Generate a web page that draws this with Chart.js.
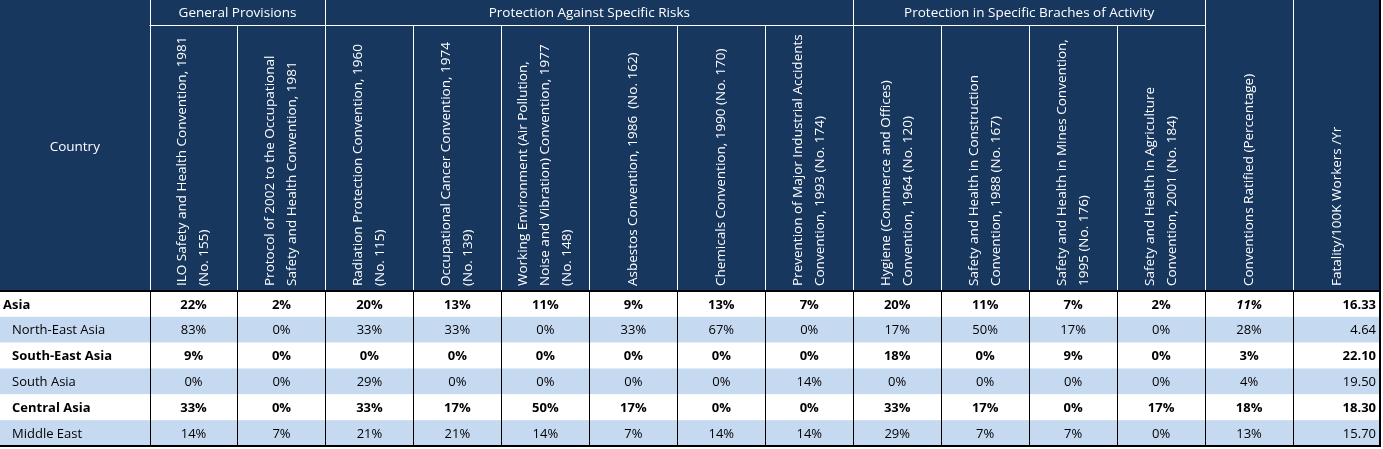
<!DOCTYPE html>
<html>
<head>
<meta charset="utf-8">
<script src="https://cdn.jsdelivr.net/npm/chart.js@4/dist/chart.umd.min.js"></script>
<style>
  html, body { margin: 0; padding: 0; background: #fff; }
  #wrap { width: 1383px; height: 449px; position: relative; }
</style>
</head>
<body>
<div id="wrap"><canvas id="table-chart"></canvas></div>
<script>
// Table data
const rowLabels = ['Asia', 'North-East Asia', 'South-East Asia', 'South Asia', 'Central Asia', 'Middle East']
const boldRows = [true, false, true, false, true, false]

const columnLabels = [
  ['ILO Safety and Health Convention, 1981', '(No. 155)'],
  ['Protocol of 2002 to the Occupational', 'Safety and Health Convention, 1981'],
  ['Radiation Protection Convention, 1960', '(No. 115)'],
  ['Occupational Cancer Convention, 1974', '(No. 139)'],
  ['Working Environment (Air Pollution,', 'Noise and Vibration) Convention, 1977', '(No. 148)'],
  ['Asbestos Convention, 1986  (No. 162)'],
  ['Chemicals Convention, 1990 (No. 170)'],
  ['Prevention of Major Industrial Accidents', 'Convention, 1993 (No. 174)'],
  ['Hygiene (Commerce and Offices)', 'Convention, 1964 (No. 120)'],
  ['Safety and Health in Construction', 'Convention, 1988 (No. 167)'],
  ['Safety and Health in Mines Convention,', '1995 (No. 176)'],
  ['Safety and Health in Agriculture', 'Convention, 2001 (No. 184)'],
  ['Conventions Ratified (Percentage)'],
  ['Fatality/100K Workers /Yr']
]

const groupLabels = ['General Provisions', 'Protection Against Specific Risks', 'Protection in Specific Braches of Activity']
const groupSpans = [[0, 2], [2, 8], [8, 12]]

const asiaValues = [22, 2, 20, 13, 11, 9, 13, 7, 20, 11, 7, 2]
const northEastValues = [83, 0, 33, 33, 0, 33, 67, 0, 17, 50, 17, 0]
const southEastValues = [9, 0, 0, 0, 0, 0, 0, 0, 18, 0, 9, 0]
const southValues = [0, 0, 29, 0, 0, 0, 0, 14, 0, 0, 0, 0]
const centralValues = [33, 0, 33, 17, 50, 17, 0, 0, 33, 17, 0, 17]
const middleEastValues = [14, 7, 21, 21, 14, 7, 14, 14, 29, 7, 7, 0]
const conventionValues = [asiaValues, northEastValues, southEastValues, southValues, centralValues, middleEastValues]

const ratifiedValues = [11, 28, 3, 4, 18, 13]
const fatalityValues = [16.33, 4.64, 22.10, 19.50, 18.30, 15.70]

const NAVY = '#17375e'
const LIGHT = '#c5d9f1'
const FONT = '"Open Sans", "Liberation Sans", sans-serif'

// one point per cell so every cell is placed through the scales
const cellPoints = []
rowLabels.forEach((r, ri) => {
  for (let ci = 0; ci < 14; ci++) cellPoints.push({ x: ci + 0.5, y: ri + 0.5 })
})

const tablePlugin = {
  id: 'tablePlugin',
  beforeDatasetsDraw(chart) {
    const { ctx, chartArea, scales } = chart
    const x = scales.x
    const y = scales.y
    const left = x.getPixelForValue(-1.7)
    const right = x.getPixelForValue(14)
    const colX = (i) => x.getPixelForValue(i)
    const rowY = (i) => y.getPixelForValue(i)
    const headTop = 0
    const headBottom = chartArea.top
    const groupBottom = 25

    ctx.save()
    // header background
    ctx.fillStyle = NAVY
    ctx.fillRect(left, headTop, right - left, headBottom - headTop)

    // body rows
    rowLabels.forEach((label, ri) => {
      const top = rowY(ri)
      const bottom = rowY(ri + 1)
      ctx.fillStyle = ri % 2 === 1 ? LIGHT : '#ffffff'
      ctx.fillRect(left, top, right - left, bottom - top)
    })

    // header lines (white)
    ctx.strokeStyle = '#ffffff'
    ctx.lineWidth = 1
    ctx.beginPath()
    for (let ci = 0; ci <= 13; ci++) {
      const px = Math.round(colX(ci)) + 0.5
      const inGroup = groupSpans.some(([a, b]) => ci > a && ci < b)
      ctx.moveTo(px, inGroup ? groupBottom : headTop)
      ctx.lineTo(px, headBottom)
    }
    groupSpans.forEach(([a, b]) => {
      ctx.moveTo(colX(a), groupBottom + 0.5)
      ctx.lineTo(colX(b), groupBottom + 0.5)
    })
    ctx.stroke()

    // body vertical lines
    ctx.strokeStyle = '#000000'
    ctx.beginPath()
    for (let ci = 0; ci <= 13; ci++) {
      const px = Math.round(colX(ci)) + 0.5
      ctx.moveTo(px, headBottom)
      ctx.lineTo(px, rowY(6))
    }
    ctx.stroke()

    // outer border
    ctx.lineWidth = 2
    ctx.strokeStyle = '#000000'
    ctx.beginPath()
    ctx.moveTo(right - 1, headTop)
    ctx.lineTo(right - 1, rowY(6))
    ctx.lineTo(left, rowY(6))
    ctx.moveTo(left, headBottom)
    ctx.lineTo(right, headBottom)
    ctx.stroke()

    // group labels
    ctx.fillStyle = '#ffffff'
    ctx.font = '13.5px ' + FONT
    ctx.textAlign = 'center'
    ctx.textBaseline = 'middle'
    groupLabels.forEach((g, gi) => {
      const [a, b] = groupSpans[gi]
      ctx.fillText(g, (colX(a) + colX(b)) / 2, 13)
    })
    ctx.fillText('Country', (left + colX(0)) / 2, 147)

    // rotated column labels
    ctx.font = '13.5px ' + FONT
    columnLabels.forEach((lines, ci) => {
      const cx = x.getPixelForValue(ci + 0.5)
      const lineGap = 22
      lines.forEach((line, li) => {
        const offset = (li - (lines.length - 1) / 2) * lineGap
        ctx.save()
        ctx.translate(cx + offset, headBottom - 5)
        ctx.rotate(-Math.PI / 2)
        ctx.textAlign = 'left'
        ctx.fillText(line, 0, 0)
        ctx.restore()
      })
    })

    // row labels and values
    rowLabels.forEach((label, ri) => {
      const cy = y.getPixelForValue(ri + 0.5) + 1
      const bold = boldRows[ri] ? 'bold ' : ''
      ctx.fillStyle = '#000000'
      ctx.textAlign = 'left'
      ctx.font = bold + '13px ' + FONT
      ctx.fillText(label, left + (ri === 0 ? 3 : 12), cy)

      ctx.textAlign = 'center'
      conventionValues[ri].forEach((v, ci) => {
        ctx.fillText(v + '%', x.getPixelForValue(ci + 0.5), cy)
      })
      ctx.font = (ri === 0 ? 'italic bold ' : bold) + '13px ' + FONT
      ctx.fillText(ratifiedValues[ri] + '%', x.getPixelForValue(12.5), cy)
      ctx.font = bold + '13px ' + FONT
      ctx.textAlign = 'right'
      ctx.fillText(fatalityValues[ri].toFixed(2), colX(14) - 5, cy)
    })
    ctx.restore()
  }
}

new Chart(document.querySelector('#table-chart'), {
  type: 'scatter',
  data: {
    datasets: [{ data: cellPoints, pointRadius: 0, pointHoverRadius: 0 }]
  },
  options: {
    responsive: true,
    maintainAspectRatio: false,
    animation: false,
    events: [],
    layout: { padding: { top: 291, left: 0, right: 2, bottom: 3 } },
    plugins: { legend: { display: false }, tooltip: { enabled: false } },
    scales: {
      x: { type: 'linear', min: -1.7, max: 14, display: false },
      y: { type: 'linear', min: 0, max: 6, reverse: true, display: false }
    }
  },
  plugins: [tablePlugin]
})
</script>
</body>
</html>
